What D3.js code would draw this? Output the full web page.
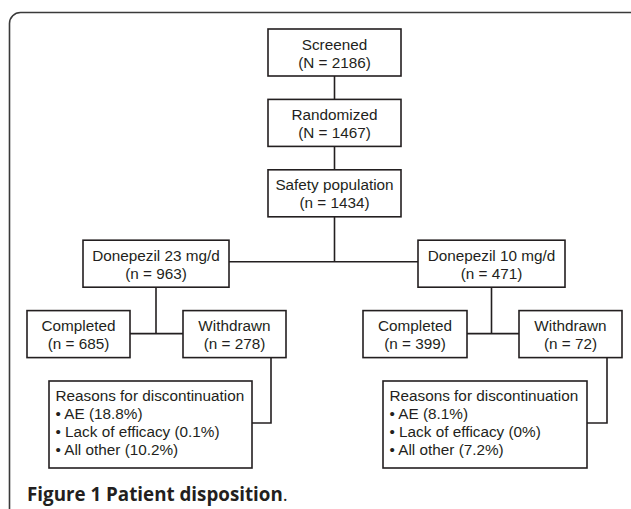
<!DOCTYPE html>
<html>
<head>
<meta charset="utf-8">
<script src="https://cdn.jsdelivr.net/npm/d3@7"></script>
<style>
  body { margin: 0; background: #fff; }
  svg text { font-family: "Liberation Sans", Arial, sans-serif; fill: #231f20; }
</style>
</head>
<body>
<script>
// flow chart content
var nodeIds = ["screened", "randomized", "safety", "d23", "d10", "compL", "withL", "compR", "withR", "reasonsL", "reasonsR"];
var nodeTitles = ["Screened", "Randomized", "Safety population", "Donepezil 23 mg/d", "Donepezil 10 mg/d",
  "Completed", "Withdrawn", "Completed", "Withdrawn", "Reasons for discontinuation", "Reasons for discontinuation"];
var nodeCounts = ["N = 2186", "N = 1467", "n = 1434", "n = 963", "n = 471", "n = 685", "n = 278", "n = 399", "n = 72", null, null];
var reasonLabels = ["AE", "Lack of efficacy", "All other"];
var reasons23 = ["18.8%", "0.1%", "10.2%"];
var reasons10 = ["8.1%", "0%", "7.2%"];
var caption = ["Figure 1", "Patient disposition"];

// layout (row index, centre x, width) kept apart from the content
var layout = {
  screened:   { row: 0, cx: 334.5, w: 133 },
  randomized: { row: 1, cx: 334.5, w: 133 },
  safety:     { row: 2, cx: 334.5, w: 133 },
  d23:        { row: 3, cx: 156,   w: 146 },
  d10:        { row: 3, cx: 491.5, w: 147 },
  compL:      { row: 4, cx: 78.5,  w: 103 },
  withL:      { row: 4, cx: 234.5, w: 103 },
  compR:      { row: 4, cx: 415,   w: 104 },
  withR:      { row: 4, cx: 570.5, w: 103 },
  reasonsL:   { row: 5, cx: 150.5, w: 203 },
  reasonsR:   { row: 5, cx: 485,   w: 204 }
};

var W = 631, H = 509;
var boxH = 47, reasonH = 87;
var y = d3.scaleLinear().domain([0, 5]).range([29, 381]);

var svg = d3.select("body").append("svg").attr("width", W).attr("height", H);

// outer frame, clipped at right and bottom like the page
svg.append("rect")
  .attr("x", 9.5).attr("y", 12.5)
  .attr("width", 640).attr("height", 540)
  .attr("rx", 11).attr("ry", 11)
  .attr("fill", "none").attr("stroke", "#3a3a3a").attr("stroke-width", 1.6);

var nodes = nodeIds.map(function(id, i) {
  var l = layout[id];
  var h = id.indexOf("reasons") == 0 ? reasonH : boxH;
  var lines;
  if (id == "reasonsL" || id == "reasonsR") {
    var vals = id == "reasonsL" ? reasons23 : reasons10;
    lines = [nodeTitles[i]].concat(reasonLabels.map(function(r, k) {
      return "\u2022 " + r + " (" + vals[k] + ")";
    }));
  } else {
    lines = [nodeTitles[i], "(" + nodeCounts[i] + ")"];
  }
  return { id: id, x: l.cx - l.w / 2, y: y(l.row), w: l.w, h: h, cx: l.cx, lines: lines };
});
var byId = {};
nodes.forEach(function(n) { byId[n.id] = n; });

// connectors
function bottom(n) { return n.y + n.h; }
function mid(n) { return n.y + n.h / 2; }
var links = [];
links.push([[byId.screened.cx, bottom(byId.screened)], [byId.randomized.cx, byId.randomized.y]]);
links.push([[byId.randomized.cx, bottom(byId.randomized)], [byId.safety.cx, byId.safety.y]]);
links.push([[byId.safety.cx, bottom(byId.safety)], [byId.safety.cx, mid(byId.d23) - 2]]);
links.push([[byId.d23.x + byId.d23.w, mid(byId.d23) - 2], [byId.d10.x, mid(byId.d10) - 2]]);
["d23", "d10"].forEach(function(arm) {
  var a = byId[arm];
  var c = byId[arm == "d23" ? "compL" : "compR"];
  var wd = byId[arm == "d23" ? "withL" : "withR"];
  var r = byId[arm == "d23" ? "reasonsL" : "reasonsR"];
  var yy = mid(c) - 0.5;
  links.push([[a.cx, bottom(a)], [a.cx, yy]]);
  links.push([[c.x + c.w, yy], [wd.x, yy]]);
  var vx = wd.x + wd.w - 15;
  links.push([[vx, bottom(wd)], [vx, mid(r) - 1.5], [r.x + r.w, mid(r) - 1.5]]);
});

var line = d3.line();
svg.selectAll(".link").data(links).enter().append("path")
  .attr("class", "link")
  .attr("d", line)
  .attr("fill", "none").attr("stroke", "#231f20").attr("stroke-width", 1.6);

// boxes
var g = svg.selectAll(".node").data(nodes).enter().append("g").attr("class", "node");
g.append("rect")
  .attr("x", function(d) { return d.x; })
  .attr("y", function(d) { return d.y; })
  .attr("width", function(d) { return d.w; })
  .attr("height", function(d) { return d.h; })
  .attr("fill", "#fff").attr("stroke", "#231f20").attr("stroke-width", 1.6);

g.each(function(d) {
  var isReason = d.id.indexOf("reasons") == 0;
  var t = d3.select(this).append("text")
    .attr("font-size", "15.3px")
    .attr("text-anchor", isReason ? "start" : "middle");
  t.selectAll("tspan").data(d.lines).enter().append("tspan")
    .attr("x", isReason ? d.x + 6.5 : d.cx)
    .attr("y", function(s, k) { return (isReason ? d.y + 20 : d.y + 20.5) + k * 18; })
    .text(function(s) { return s; });
});

// caption
var cap = svg.append("text")
  .attr("x", 27).attr("y", 501)
  .attr("font-size", "19px")
  .style("font-family", "'Open Sans', 'DejaVu Sans', sans-serif");
cap.append("tspan").attr("font-weight", "bold").text(caption[0] + " " + caption[1]);
cap.append("tspan").attr("font-weight", "normal").text(".");
var bold = cap.select("tspan").node().getComputedTextLength();
cap.attr("font-size", (19 * 256 / bold) + "px");
</script>
</body>
</html>
